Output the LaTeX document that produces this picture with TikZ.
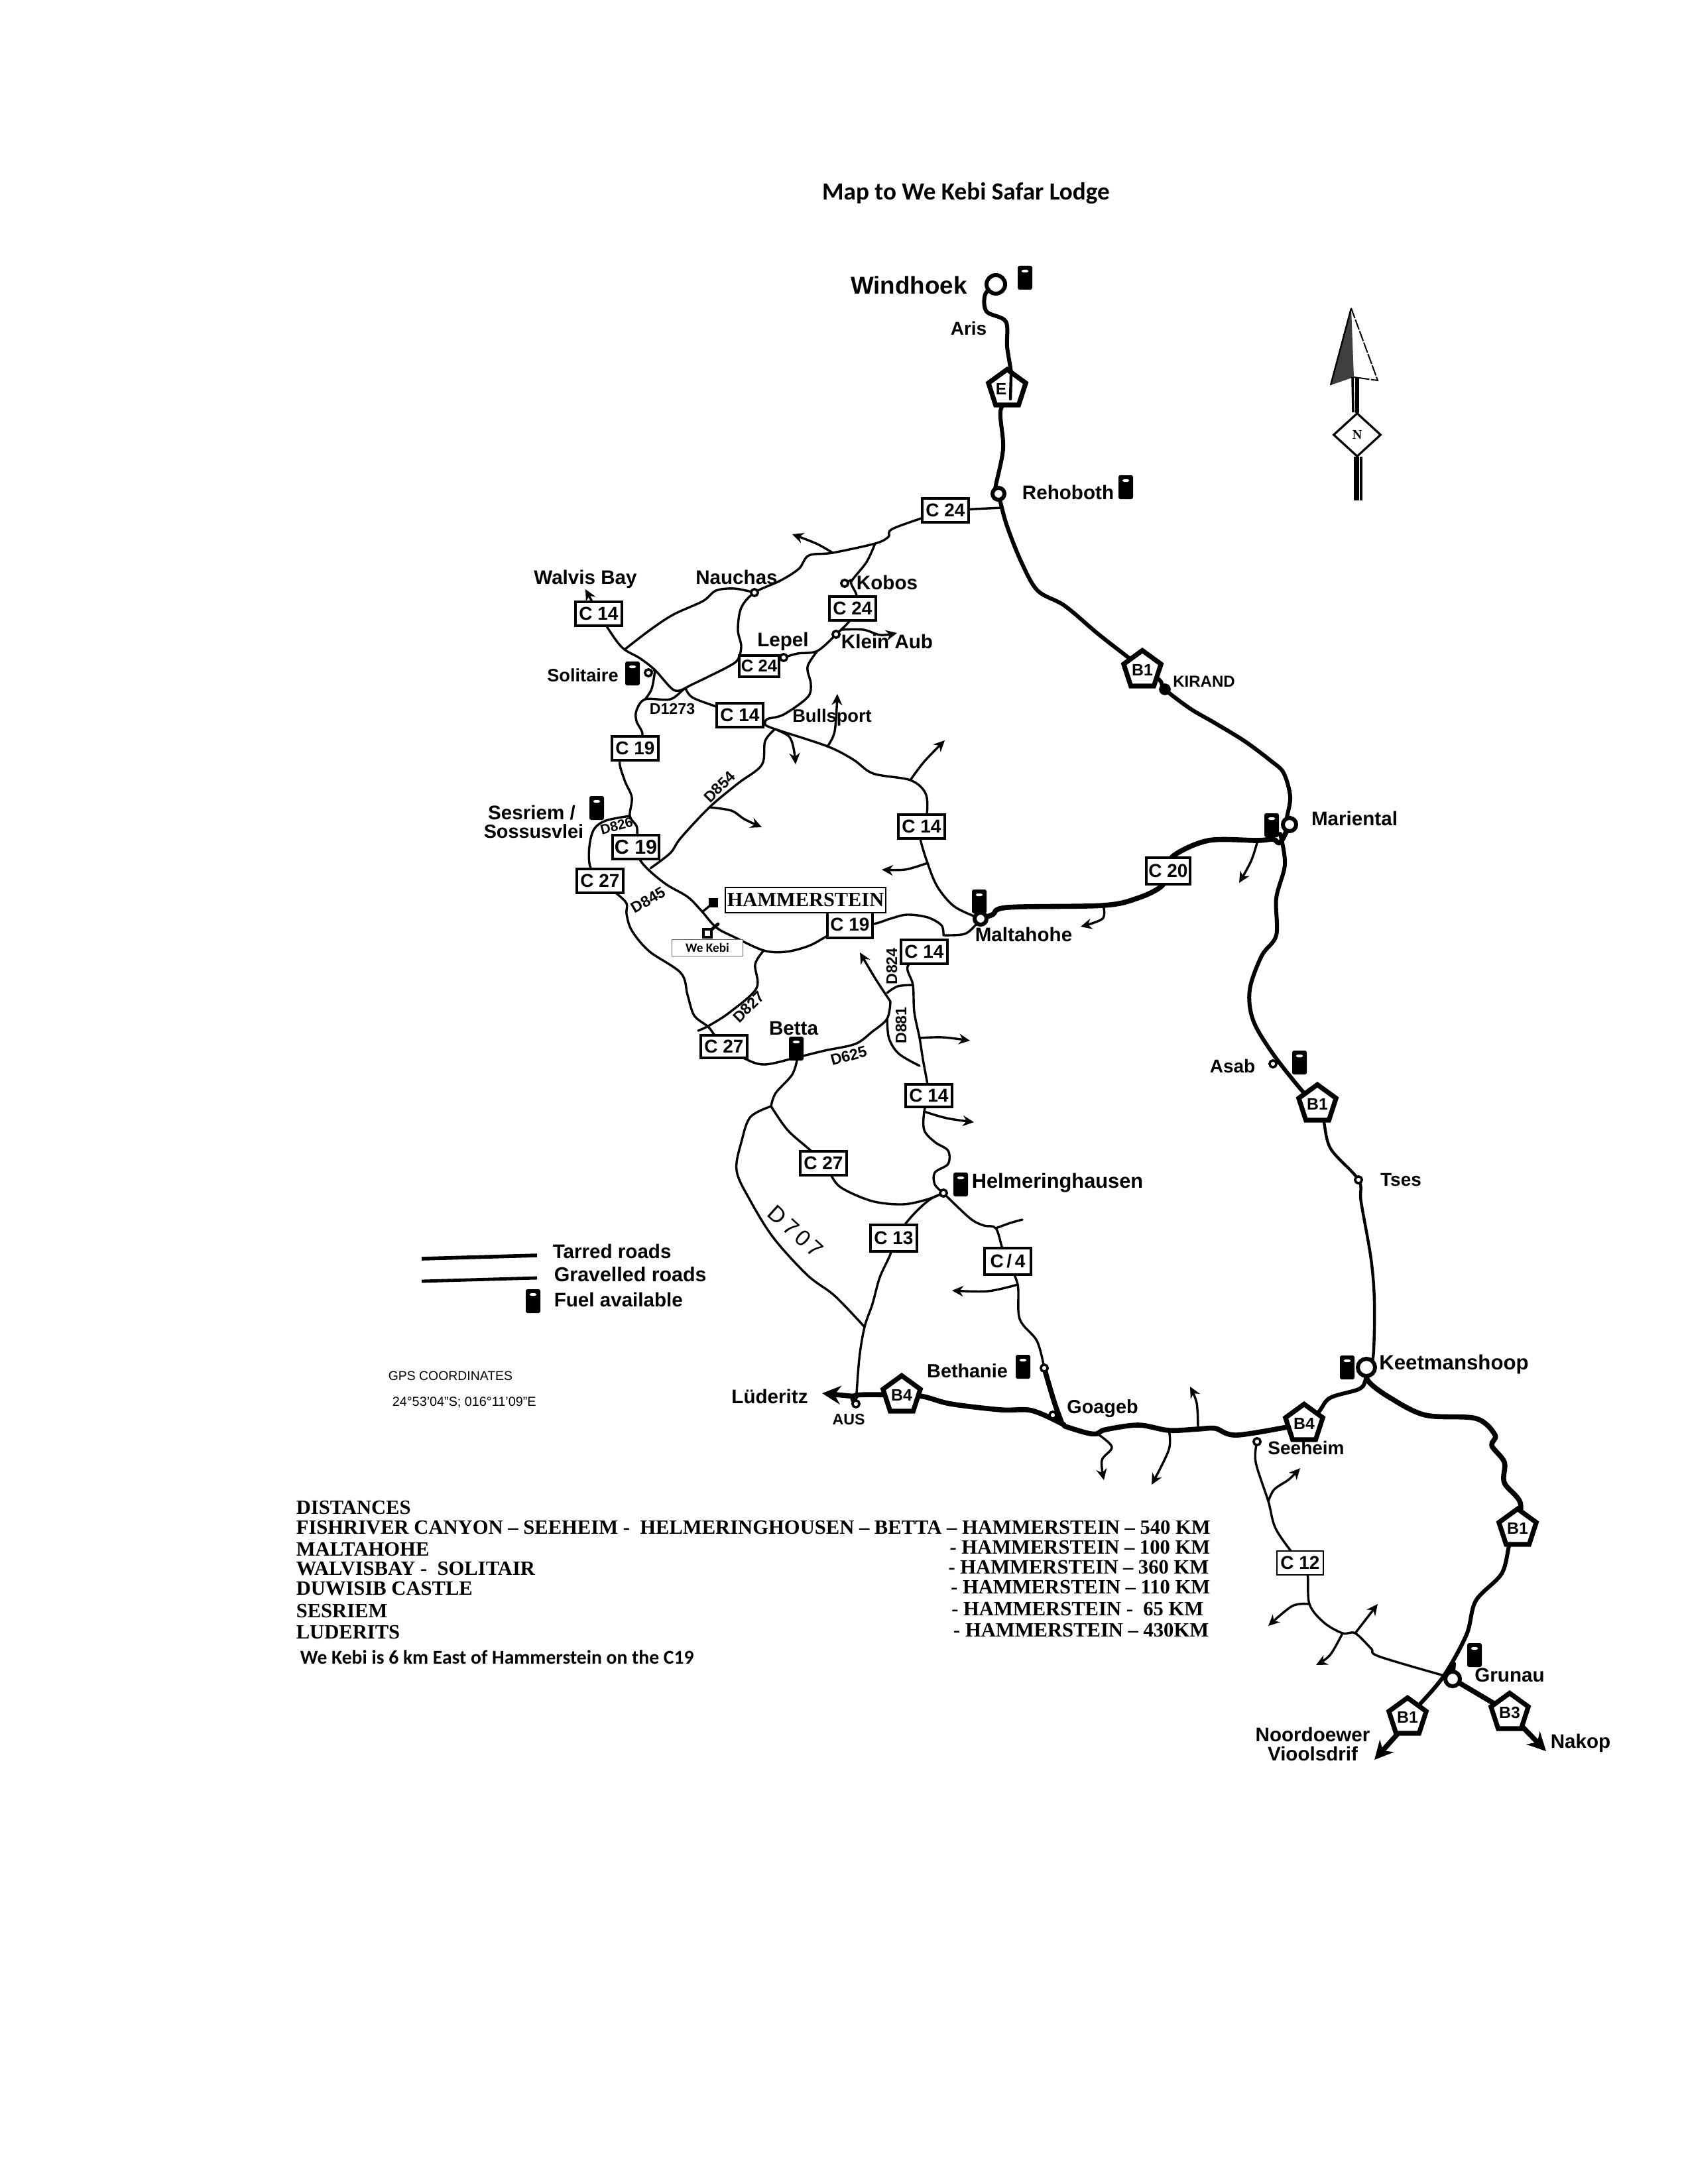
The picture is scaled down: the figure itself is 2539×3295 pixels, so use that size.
\documentclass[tikz,border=0pt]{standalone}
\usepackage{fontspec}
\setmainfont{Liberation Sans}
\newfontfamily\carlitofont{Carlito}
\newfontfamily\timesfont{Liberation Serif}
\usetikzlibrary{shapes.geometric,arrows.meta,calc}
\pgfdeclarelayer{roads}
\pgfsetlayers{roads,main}
\newcommand{\fs}[1]{\fontsize{#1}{#1}\selectfont}
\tikzset{
  road/.style={line width=0.85pt,line join=round,line cap=round,smooth,tension=0.55},
  tar/.style={road,line width=1.5pt},
  fat/.style={road,line width=1.9pt},
  spur/.style={road,-{Stealth[length=4.2pt,width=4pt]}},
  rbox/.style={draw,fill=white,line width=0.9pt,minimum width=17.5pt,minimum height=9pt,inner sep=0pt,font=\bfseries\fs{7}},
  penta/.style={regular polygon,regular polygon sides=5,draw,fill=white,line width=1.8pt,minimum size=14.8pt,inner sep=0pt,label={[font=\bfseries\fs{6.2},inner sep=0pt]center:#1}},
  town/.style={circle,draw,fill=white,line width=0.9pt,minimum size=2.6pt,inner sep=0pt},
  bigtown/.style={circle,draw,fill=white,line width=1.5pt,minimum size=#1,inner sep=0pt},
  fuel/.style={rectangle,fill=black,rounded corners=0.7pt,minimum width=5.5pt,minimum height=9pt,inner sep=0pt,
    path picture={\fill[white] ([xshift=-1.3pt,yshift=-1.5pt]path picture bounding box.north) rectangle ++(2.6pt,-1pt);}},
  lab/.style={font=\bfseries\fs{7.4},inner sep=0pt},
  dlab/.style={font=\bfseries\fs{5.8},inner sep=0pt},
  dist/.style={font=\timesfont\bfseries\fs{7.65},inner sep=0pt},
}
\begin{document}
\begin{tikzpicture}[x=0.25pt,y=-0.25pt]
\useasboundingbox (0,0) rectangle (2539,3295);

% ---------- title ----------
\node[font=\carlitofont\bfseries\fs{9.3},inner sep=0pt] (title) at (1457,292) {Map to We Kebi Safar Lodge};

% ---------- towns ----------
\node[bigtown=7pt] (windhoek) at (1502,429) {};
\node[bigtown=4.5pt] (rehoboth) at (1506,745) {};
\node[town,fill=black,minimum size=3.5pt] (kirand) at (1757,1040) {};
\node[bigtown=5pt] (mariental) at (1945,1244) {};
\node[bigtown=4.5pt] (maltahohe) at (1479,1386) {};
\node[town] (asab) at (1920,1605) {};
\node[town] (tses) at (2049,1780) {};
\node[bigtown=6.5pt] (keetmans) at (2061,2063) {};
\node[town] (seeheim) at (1896,2175) {};
\node[town] (goageb) at (1588,2135) {};
\node[town] (bethanie) at (1575,2064) {};
\node[town] (aus) at (1291,2118) {};
\node[town] (helmering) at (1423,1800) {};
\node[bigtown=5.5pt] (grunau) at (2191,2533) {};
\node[town] (nauchas) at (1138,894) {};
\node[town] (kobos) at (1274,880) {};
\node[town] (lepel) at (1182,992) {};
\node[town] (kleinaub) at (1261,957) {};
\node[town] (solitaire) at (978,1015) {};
\node[rectangle,fill=black,minimum size=3.6pt,inner sep=0pt] (hammer) at (1076,1362) {};
\node[rectangle,draw,fill=white,line width=1pt,minimum size=3pt,inner sep=0pt] (wekebi) at (1067,1408) {};

% ---------- junctions ----------
\coordinate (jA) at (1320,820);
\coordinate (jB) at (1256,834);
\coordinate (jC) at (942,980);
\coordinate (jD) at (1034,1038);
\coordinate (jE) at (973,1055);
\coordinate (jF) at (1233,982);
\coordinate (jG) at (1169,1100);
\coordinate (jH) at (1248,1126);
\coordinate (jI) at (1373,1177);
\coordinate (jK) at (1070,1218);
\coordinate (jL) at (950,1231);
\coordinate (jM) at (1399,1302);
\coordinate (jN) at (1423,1411);
\coordinate (jO) at (1343,1511);
\coordinate (jP) at (1377,1486);
\coordinate (jQ) at (1387,1566);
\coordinate (jR) at (1394,1677);
\coordinate (jS) at (1203,1595);
\coordinate (jT) at (1163,1669);
\coordinate (jU) at (1304,2002);
\coordinate (jV) at (1502,1853);
\coordinate (jW) at (1535,1938);
\coordinate (jX) at (1602,2148);
\coordinate (jY) at (1763,2158);
\coordinate (jZ) at (1807,2156);
\coordinate (kA) at (1655,2163);
\coordinate (kB) at (1913,2265);
\coordinate (kC) at (1975,2420);
\coordinate (kD) at (2025,2464);
\coordinate (kE) at (2044,2464);
\coordinate (kF) at (2178,2528);
\coordinate (kG) at (1520,1369);
\coordinate (kH) at (1664,1366);
\coordinate (kI) at (1897,1268);
\coordinate (kJ) at (1931,1271);
\coordinate (kK) at (1509,758);
\coordinate (kL) at (988,1011);
\coordinate (kM) at (1512,766);
% spur tips
\coordinate (t1) at (1195,806);
\coordinate (t2) at (883,889);
\coordinate (t3) at (1353,955);
\coordinate (t4) at (1263,1047);
\coordinate (t5) at (1425,1117);
\coordinate (t6) at (1200,1153);
\coordinate (t7) at (1149,1248);
\coordinate (t8) at (1330,1312);
\coordinate (t9) at (1297,1437);
\coordinate (t10) at (1463,1570);
\coordinate (t11) at (1469,1693);
\coordinate (t12) at (1542,1840);
\coordinate (t13) at (1436,1947);
\coordinate (t14) at (1240,2102);
\coordinate (t15) at (1665,2233);
\coordinate (t16) at (1737,2240);
\coordinate (t17) at (1795,2092);
\coordinate (t18) at (1961,2215);
\coordinate (t19) at (1913,2453);
\coordinate (t20) at (1985,2512);
\coordinate (t21) at (2078,2420);
\coordinate (t22) at (2073,2655);
\coordinate (t23) at (2332,2642);
\coordinate (t24) at (1630,1398);
\coordinate (t25) at (1869,1332);
\coordinate (t26) at (1053,1555);

% ---------- route shields ----------
\node[penta={}, label={[font=\bfseries\fs{6.2},inner sep=0pt,xshift=-2.2pt]center:E}] (pE) at (1519,587) {};
\node[penta=B1] (pB1a) at (1723,1011) {};
\node[penta=B1] (pB1b) at (1987,1666) {};
\node[penta=B4] (pB4a) at (1360,2105) {};
\node[penta=B4] (pB4b) at (1967,2148) {};
\node[penta=B1] (pB1c) at (2289,2306) {};
\node[penta=B1] (pB1d) at (2123,2591) {};
\node[penta=B3] (pB3) at (2277,2584) {};

% ---------- road boxes ----------
\node[rbox] (c24a) at (1426,770) {C 24};
\node[rbox] (c14a) at (903,926) {C 14};
\node[rbox] (c24b) at (1286,918) {C 24};
\node[rbox,font=\bfseries\fs{6.4},minimum width=15pt,minimum height=8pt] (c24c) at (1145,1005) {C 24};
\node[rbox] (c14b) at (1116,1079) {C 14};
\node[rbox] (c19a) at (958,1129) {C 19};
\node[rbox,font=\bfseries\fs{7.6}] (c19b) at (959,1278) {C 19};
\node[rbox] (c27a) at (905,1329) {C 27};
\node[rbox] (c14c) at (1390,1247) {C 14};
\node[rbox,minimum width=17pt,minimum height=10pt] (c19c) at (1282,1395) {C 19};
\node[rbox] (c14e) at (1394,1436) {C 14};
\node[rbox,minimum height=8.5pt] (c27b) at (1092,1579) {C 27};
\node[rbox,minimum height=8.5pt] (c14f) at (1401,1653) {C 14};
\node[rbox] (c27c) at (1242,1755) {C 27};
\node[rbox,minimum height=10pt] (c13) at (1348,1868) {C 13};
\node[rbox,minimum height=10pt] (c14g) at (1520,1903) {C\,/\,4};
\node[rbox,line width=0.7pt] (c12) at (1961,2358) {C 12};
\node[rbox,minimum width=16.5pt,minimum height=10pt] (c20) at (1762,1314) {C 20};

% ---------- roads ----------
\begin{pgfonlayer}{roads}
\fill[white] (0,0) rectangle (2539,3295);
% B1 main
\draw[tar] plot coordinates {(windhoek.center) (1486,444) (1488,470) (1517,485) (1519,523) (1525,564) (1524,600) (1509,620) (1513,677) (1501,738) (rehoboth.center)};
\draw[tar] plot coordinates {(rehoboth.center) (kK) (1519,794) (1540,847) (1565,891) (1606,914) (1657,957) (1703,993) (pB1a.center) (1749,1026) (kirand.center) (1795,1069) (1831,1090) (1877,1118) (1917,1148) (1936,1166) (1946,1202) (1941,1235) (mariental.center)};
\draw[tar] plot coordinates {(1931,1258) (1938,1304) (1925,1355) (1925,1411) (1903,1442) (1885,1493) (1890,1539) (1920,1590) (1966,1648) (pB1b.center)};
\draw[road,line width=1.1pt] plot coordinates {(pB1b.center) (1996,1689) (2007,1733) (tses.center) (2053,1814) (2068,1900) (2073,1966) (2071,2048) (keetmans.center)};
\draw (asab.center) -- (1928,1604);
\draw[tar] plot coordinates {(keetmans.center) (2059,2084) (2049,2096) (2006,2109) (1989,2130) (pB4b.center)};
\draw[fat] plot coordinates {(keetmans.center) (2064,2084) (2097,2109) (2150,2135) (2226,2140) (2255,2165) (2250,2181) (2269,2206) (2269,2237) (2293,2267) (pB1c.center)};
\draw[tar] plot coordinates {(pB1c.center) (2277,2329) (2265,2374) (2226,2415) (2212,2466) (kF) (2140,2573) (pB1d.center)};
\draw[fat] (pB1d.center) -- (2107,2617);
\draw[fat,-{Stealth[length=7pt,width=7pt]}] (2107,2617) -- (t22);
\draw[fat] (grunau.center) -- (pB3.center);
\draw[fat] (pB3.center) -- (2298,2607);
\draw[fat,-{Stealth[length=7pt,width=7pt]}] (2298,2607) -- (t23);
\draw[tar] (kF) -- (2193,2510) -- (grunau.center);
% B4
\draw[fat] plot coordinates {(aus.center) (1291,2105) (pB4a.center)};
\draw[fat] plot coordinates {(pB4a.center) (1393,2107) (1434,2118) (1510,2127) (1556,2128) (jX) (1607,2152) (1640,2162) (kA) (1667,2157) (1717,2150) (jY) (jZ) (1833,2155) (1867,2165) (pB4b.center)};
\draw[fat] plot coordinates {(bethanie.center) (1590,2115) (jX)};
\draw[road] (goageb.center) -- (1602,2148);
\draw[fat,-{Stealth[length=7pt,width=7pt]}] (1291,2107) -- (t14);
% C20 / Maltahohe tarred
\draw[fat] plot coordinates {(maltahohe.center) (1497,1380) (kG) (kH) (1716,1355) (1752,1337) (c20.center)};
\draw[fat] plot coordinates {(c20.center) (1770,1291) (1823,1268) (kI) (1920,1266) (kJ) (mariental.center)};
% C24
\draw[road] (rehoboth.center) -- (kM) -- (c24a.center);
\draw[road] plot coordinates {(c24a.center) (1348,797) (1340,810) (jA) (jB) (1220,838) (1205,858) (1177,876) (nauchas.center) (1118,917) (1113,950) (1118,975) (1113,995) (1098,1006) (1062,1024) (jD) (1011,1055) (jE) (960,1072) (960,1088) (969,1108) (c19a.center)};
\draw[road] plot coordinates {(c14a.center) (927,963) (jC) (965,993) (kL) (1016,1041) (jD)};
\draw[road] plot coordinates {(nauchas.center) (1108,888) (1080,891) (1060,907) (1016,927) (981,950) (jC)};
\draw[road] plot coordinates {(kL) (983,1039) (jE)};
\draw (solitaire.center) -- (kL);
\draw[road] plot coordinates {(jD) (1044,1052) (1080,1066) (c14b.center)};
\draw[road] plot coordinates {(c14b.center) (1152,1093) (jG) (jH) (1287,1146) (1317,1167) (jI) (1396,1197) (1398,1228) (c14c.center)};
\draw[road] plot coordinates {(c14c.center) (1388,1265) (jM) (1414,1338) (1440,1368) (maltahohe.center)};
\draw[road] plot coordinates {(jA) (1307,848) (1287,873) (1284,881) (1292,899) (c24b.center)};
\draw[road] (kobos.center) -- (1284,875);
\draw[road] plot coordinates {(c24b.center) (1282,936) (kleinaub.center)};
\draw[road] plot coordinates {(kleinaub.center) (jF) (1203,986) (lepel.center)};
\draw[road] plot coordinates {(jF) (1218,1006) (1223,1032) (1218,1052) (1182,1078) (1157,1085) (1154,1093)};
% spurs
\draw[spur] plot coordinates {(1269,950) (1302,950) (1328,958) (t3)};
\draw[spur] plot coordinates {(jB) (1231,820) (t1)};
\draw[spur] (c14a.center) -- (t2);
\draw[spur] plot coordinates {(jH) (1259,1103) (t4)};
\draw[spur] plot coordinates {(jI) (1394,1149) (t5)};
\draw[spur] plot coordinates {(jG) (1190,1111) (1197,1129) (t6)};
\draw[spur] plot coordinates {(jK) (1103,1223) (1123,1236) (t7)};
\draw[spur] plot coordinates {(jM) (1365,1312) (t8)};
\draw[spur] plot coordinates {(jO) (1320,1476) (t9)};
\draw[spur] plot coordinates {(jQ) (1422,1565) (t10)};
\draw[spur] plot coordinates {(jR) (1428,1687) (t11)};
\draw[road] plot coordinates {(jV) (1524,1845) (t12)};
\draw[spur] plot coordinates {(jW) (1490,1948) (t13)};
\draw[spur] plot coordinates {(kA) (1677,2183) (1662,2203) (t15)};
\draw[spur] plot coordinates {(jY) (1763,2187) (t16)};
\draw[spur] plot coordinates {(jZ) (1805,2117) (t17)};
\draw[spur] plot coordinates {(kB) (1922,2247) (1944,2232) (t18)};
\draw[spur] plot coordinates {(kC) (1949,2423) (t19)};
\draw[spur] plot coordinates {(kD) (2006,2497) (t20)};
\draw[spur] (kE) -- (t21);
\draw[spur] plot coordinates {(kH) (1663,1386) (t24)};
\draw[spur] plot coordinates {(kI) (1887,1299) (t25)};
% D854
\draw[road] plot coordinates {(jG) (1154,1118) (1149,1154) (1113,1182) (jK) (1027,1264) (1011,1287) (981,1310)};
% C19
\draw[road] plot coordinates {(c19a.center) (935,1146) (942,1177) (953,1203) (jL) (960,1246) (961,1259) (c19b.center)};
\draw[road] plot coordinates {(jL) (914,1238) (896,1251) (889,1277) (890,1307) (c27a.center)};
\draw[road] plot coordinates {(c19b.center) (965,1297) (981,1315) (1006,1335) (1037,1353) (1057,1373) (1080,1399) (1108,1414) (1152,1434) (1185,1436) (1220,1427) (1248,1412) (c19c.center)};
\draw[road] plot coordinates {(c19c.center) (1317,1394) (1343,1386) (1368,1380) (1399,1384) (1420,1396) (jN)};
\draw[road] plot coordinates {(jN) (1455,1409) (1473,1394) (maltahohe.center)};
\draw[road] (hammer.center) -- (1059,1376);
\draw[road,line width=1.2pt] (wekebi.center) -- (1083,1394);
% C27
\draw[road] plot coordinates {(c27a.center) (930,1348) (945,1363) (945,1379) (953,1404) (979,1435) (1027,1468) (1037,1501) (1047,1532) (1068,1549) (1078,1562) (c27b.center)};
\draw[road] plot coordinates {(1152,1434) (1139,1455) (1141,1491) (1101,1527) (1070,1547) (t26)};
\draw[road] plot coordinates {(c27b.center) (1119,1595) (1152,1606) (jS) (1244,1585) (1290,1575) (1315,1557) (1338,1537) (jO)};
\draw[road] plot coordinates {(1338,1537) (1341,1567) (1356,1590) (1387,1608)};
\draw[road] plot coordinates {(1338,1498) (1354,1488) (jP)};
\draw[road] plot coordinates {(c14e.center) (1369,1458) (jP) (1379,1527) (jQ) (1392,1598) (1399,1636) (c14f.center)};
\draw[road] plot coordinates {(c14f.center) (jR) (1394,1705) (1410,1723) (1430,1736) (1430,1756) (1410,1769) (1410,1787) (helmering.center)};
\draw[road] plot coordinates {(jS) (1195,1621) (1170,1649) (jT)};
\draw[road] plot coordinates {(jT) (1132,1685) (1119,1720) (1111,1766) (1132,1812) (1167,1868) (1218,1924) (1259,1955) (jU)};
\draw[road] plot coordinates {(jT) (1188,1705) (1223,1736) (c27c.center)};
\draw[road] plot coordinates {(c27c.center) (1252,1771) (1269,1792) (1315,1812) (1361,1817) (1397,1810) (helmering.center)};
\draw[road] plot coordinates {(c13.center) (1377,1833) (1402,1810) (helmering.center)};
\draw[road] plot coordinates {(c13.center) (1343,1892) (1327,1927) (1316,1967) (jU) (1296,2050) (aus.center)};
\draw[road] plot coordinates {(helmering.center) (1463,1838) (1484,1849) (jV) (1512,1884) (c14g.center)};
\draw[road] plot coordinates {(c14g.center) (jW) (1538,1990) (1564,2023) (bethanie.center)};
% C12
\draw[road] plot coordinates {(seeheim.center) (1894,2206) (kB) (1925,2308) (c12.center)};
\draw[road] plot coordinates {(c12.center) (1972,2374) (kC) (1997,2448) (kD) (kE) (2068,2487) (2080,2499) (kF)};
\end{pgfonlayer}
\draw[road,line width=1.1pt] (1525,565) -- (1524,602);

% ---------- D-road labels ----------
\node[dlab] (d1273) at (1014,1070) {D1273};
\node[dlab,rotate=45] (d854) at (1085,1187) {D854};
\node[dlab,rotate=15,font=\bfseries\fs{5.2}] (d826) at (930,1246) {D826};
\node[dlab,rotate=30] (d845) at (978,1358) {D845};
\node[dlab,rotate=45] (d827) at (1129,1519) {D827};
\node[dlab,rotate=90] (d824) at (1345,1458) {D824};
\node[dlab,rotate=90] (d881) at (1359,1547) {D881};
\node[dlab,rotate=15] (d625) at (1280,1593) {D625};
\node[font=\fs{8.5},inner sep=0pt,rotate=-42] (d707) at (1200,1858) {D\,7\,0\,7};

% ---------- place labels ----------
\node[lab,font=\bfseries\fs{9.2}] (lwindhoek) at (1371,430) {Windhoek};
\node[lab,font=\bfseries\fs{7}] (laris) at (1461,495) {Aris};
\node[lab] (lrehoboth) at (1611,743) {Rehoboth};
\node[lab,font=\bfseries\fs{6}] (lkirand) at (1816,1028) {KIRAND};
\node[lab] (lwalvis) at (883,874) {Walvis Bay};
\node[lab] (lnauchas) at (1111,871) {Nauchas};
\node[lab] (lkobos) at (1338,879) {Kobos};
\node[lab] (llepel) at (1181,968) {Lepel};
\node[lab] (lklein) at (1338,968) {Klein Aub};
\node[lab,font=\bfseries\fs{6.8}] (lsolitaire) at (879,1019) {Solitaire};
\node[lab,font=\bfseries\fs{6.8}] (lbull) at (1255,1082) {Bullsport};
\node[lab,font=\bfseries\fs{7.4}] (lses1) at (802,1226) {Sesriem /};
\node[lab,font=\bfseries\fs{7.2}] (lses2) at (805,1254) {Sossusvlei};
\node[lab] (lmariental) at (2043,1235) {Mariental};
\node[lab] (lmalta) at (1544,1410) {Maltahohe};
\node[lab,font=\bfseries\fs{7}] (lasab) at (1859,1608) {Asab};
\node[lab,font=\bfseries\fs{7}] (ltses) at (2113,1780) {Tses};
\node[lab,font=\bfseries\fs{7.4}] (lbetta) at (1197,1551) {Betta};
\node[lab,font=\bfseries\fs{7.7},anchor=west] (lhelm) at (1465,1785) {Helmeringhausen};
\node[lab,font=\bfseries\fs{7.2}] (lbeth) at (1459,2068) {Bethanie};
\node[lab] (lluder) at (1161,2107) {Lüderitz};
\node[lab,font=\bfseries\fs{5.8}] (laus) at (1280,2141) {AUS};
\node[lab,font=\bfseries\fs{7.2}] (lgoa) at (1663,2125) {Goageb};
\node[lab,font=\bfseries\fs{7}] (lsee) at (1970,2184) {Seeheim};
\node[lab,font=\bfseries\fs{7.8}] (lkeet) at (2193,2058) {Keetmanshoop};
\node[lab] (lgrunau) at (2277,2527) {Grunau};
\node[lab] (lnakop) at (2384,2630) {Nakop};
\node[lab] (lnoord) at (1980,2617) {Noordoewer};
\node[lab] (lvio) at (1980,2646) {Vioolsdrif};

% ---------- Hammerstein / We Kebi ----------
\node[draw,line width=0.5pt,fill=white,font=\timesfont\bfseries\fs{7.6},minimum width=60.7pt,minimum height=9.7pt,inner sep=0pt] (lhammer) at (1215,1358) {HAMMERSTEIN};
\node[draw=black!60,line width=0.3pt,fill=white,font=\carlitofont\bfseries\fs{4.8},minimum width=26.7pt,minimum height=6.2pt,inner sep=0pt] (lwe) at (1067,1430) {We Kebi};

% ---------- fuel pumps ----------
\node[fuel] (f1) at (1546,419) {};
\node[fuel] (f2) at (1698,735) {};
\node[fuel] (f3) at (954,1016) {};
\node[fuel] (f4) at (900,1219) {};
\node[fuel] (f5) at (1477,1360) {};
\node[fuel] (f6) at (1918,1245) {};
\node[fuel] (f7) at (1960,1603) {};
\node[fuel] (f8) at (1201,1582) {};
\node[fuel] (f9) at (1449,1787) {};
\node[fuel] (f10) at (1543,2062) {};
\node[fuel] (f11) at (2032,2063) {};
\node[fuel] (f12) at (2224,2497) {};
\node[fuel] (f13) at (804,1963) {};

% ---------- north arrow ----------
\fill[black!75] (2038,465) -- (2007,581) -- (2042,569) -- cycle;
\draw[line width=0.5pt,dash pattern=on 4pt off 0.6pt] (2038,465) -- (2078,574) -- (2042,569);
\draw[line width=0.6pt] (2007,581) -- (2038,465);
\node[diamond,draw,line width=0.8pt,fill=white,minimum width=18pt,minimum height=16.5pt,inner sep=0pt,font=\timesfont\bfseries\fs{5}] (north) at (2047,656) {N};
\draw[line width=0.9pt] (2040,569) -- (2041,622);
\draw[line width=1.6pt] (2047,569) -- (2047,623);
\draw[line width=0.8pt] (2044,689) -- (2044,755);
\draw[line width=0.8pt] (2048,689) -- (2048,755);
\draw[line width=0.8pt] (2053,689) -- (2053,755);

% ---------- legend ----------
\coordinate (ta) at (636,1899); \coordinate (tb) at (810,1894);
\coordinate (ga) at (636,1933); \coordinate (gb) at (810,1928);
\draw[line width=1.4pt] (ta) -- (tb);
\draw[line width=1.2pt] (ga) -- (gb);
\node[lab,anchor=west,font=\bfseries\fs{7.4}] (ltar) at (833,1888) {Tarred roads};
\node[lab,anchor=west,font=\bfseries\fs{7.6}] (lgrav) at (835,1923) {Gravelled roads};
\node[lab,anchor=west,font=\bfseries\fs{7.4}] (lfuel) at (835,1961) {Fuel available};
\node[font=\fs{4.85},anchor=west,inner sep=0pt] (lgps) at (585,2076) {GPS COORDINATES};
\node[font=\fs{4.95},anchor=west,inner sep=0pt] (lcoord) at (591,2116) {24°53'04"S; 016°11'09"E};

% ---------- distances ----------
\node[dist,anchor=west] (dh) at (446,2274) {DISTANCES};
\node[dist,anchor=west] (d1) at (446,2305) {FISHRIVER CANYON – SEEHEIM -\ \ HELMERINGHOUSEN – BETTA – HAMMERSTEIN – 540 KM};
\node[dist,anchor=west] (d2) at (446,2337) {MALTAHOHE};
\node[dist,anchor=east] (d2r) at (1826,2334) {- HAMMERSTEIN – 100 KM};
\node[dist,anchor=west] (d3) at (446,2367) {WALVISBAY -\ \ SOLITAIR};
\node[dist,anchor=east] (d3r) at (1824,2364) {- HAMMERSTEIN – 360 KM};
\node[dist,anchor=west] (d4) at (446,2397) {DUWISIB CASTLE};
\node[dist,anchor=east] (d4r) at (1826,2394) {- HAMMERSTEIN – 110 KM};
\node[dist,anchor=west] (d5) at (446,2430) {SESRIEM};
\node[dist,anchor=east] (d5r) at (1816,2427) {- HAMMERSTEIN -\ \ 65 KM};
\node[dist,anchor=west] (d6) at (446,2462) {LUDERITS};
\node[dist,anchor=east] (d6r) at (1824,2459) {- HAMMERSTEIN – 430KM};
\node[font=\carlitofont\bfseries\fs{7.4},anchor=west,inner sep=0pt] (wk) at (452,2500) {We Kebi is 6 km East of Hammerstein on the C19};
\end{tikzpicture}
\end{document}
